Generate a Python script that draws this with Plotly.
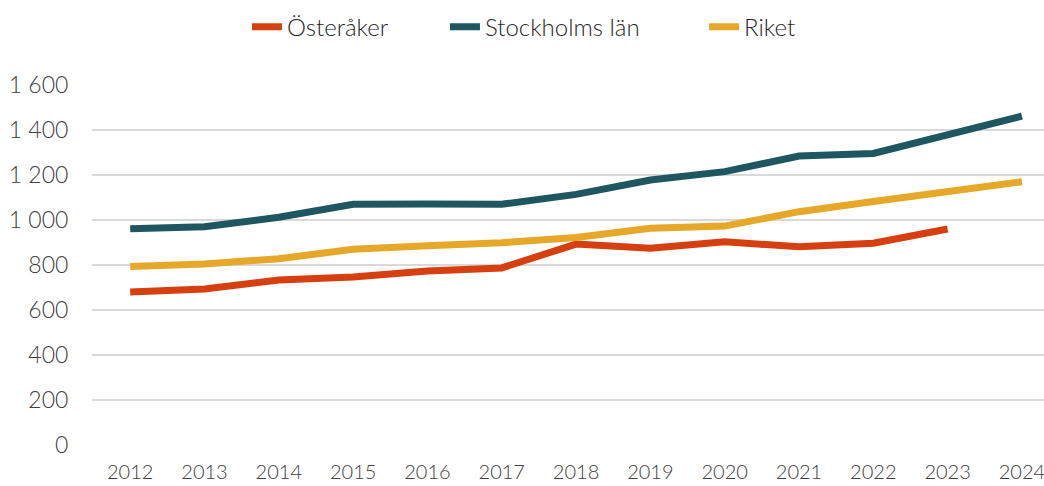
import plotly.graph_objects as go

years = list(range(2012, 2025))
osteraker = [680, 693, 733, 747, 773, 787, 893, 875, 903, 881, 897, 960]
stockholm = [961, 970, 1012, 1070, 1071, 1070, 1114, 1178, 1215, 1284, 1296, 1378, 1462]
riket = [793, 804, 828, 870, 886, 899, 922, 963, 973, 1037, 1082, 1126, 1170]
y_ticks = [0, 200, 400, 600, 800, 1000, 1200, 1400, 1600]
y_labels = ["0", "200", "400", "600", "800", "1 000", "1 200", "1 400", "1 600"]

FONT = "Lato"
fig = go.Figure()
series = [("Österåker", years[:len(osteraker)], osteraker, "#D63F0F", "legend", 0.2366),
          ("Stockholms län", years, stockholm, "#1F5760", "legend2", 0.4262),
          ("Riket", years, riket, "#E5A828", "legend3", 0.6744)]
legends = {}
for name, xs, ys, col, lg, lx in series:
    fig.add_trace(go.Scatter(x=xs, y=ys, name=name, mode="lines", legend=lg,
                             line=dict(color=col, width=7)))
    legends[lg] = dict(orientation="h", xref="container", yref="container",
                       x=lx, xanchor="left", y=0.944, yanchor="middle",
                       font=dict(size=24, color="#262626"), bgcolor="rgba(0,0,0,0)")

fig.update_layout(
    width=1044, height=486,
    margin=dict(l=92, r=0, t=85, b=41, autoexpand=False),
    paper_bgcolor="white", plot_bgcolor="white",
    font=dict(family=FONT, size=23, color="#404040", weight=300),
    showlegend=True,
    xaxis=dict(range=[2011.486, 2024.297], tickvals=years, ticktext=[str(y) for y in years],
               showgrid=False, zeroline=False, showline=False, automargin=False,
               ticklabeloverflow="allow", tickfont=dict(size=20),
               ticks="outside", ticklen=9, tickcolor="rgba(0,0,0,0)"),
    yaxis=dict(range=[0, 1600], tickvals=y_ticks, ticktext=y_labels, automargin=False,
               showgrid=True, gridcolor="#D9D9D9", gridwidth=1.5, zeroline=False,
               showline=False, ticks="outside", ticklen=18, tickcolor="rgba(0,0,0,0)"),
    **legends,
)
fig.write_html("out.html", config={"displayModeBar": False},
               post_script="document.body.style.margin='0';")
